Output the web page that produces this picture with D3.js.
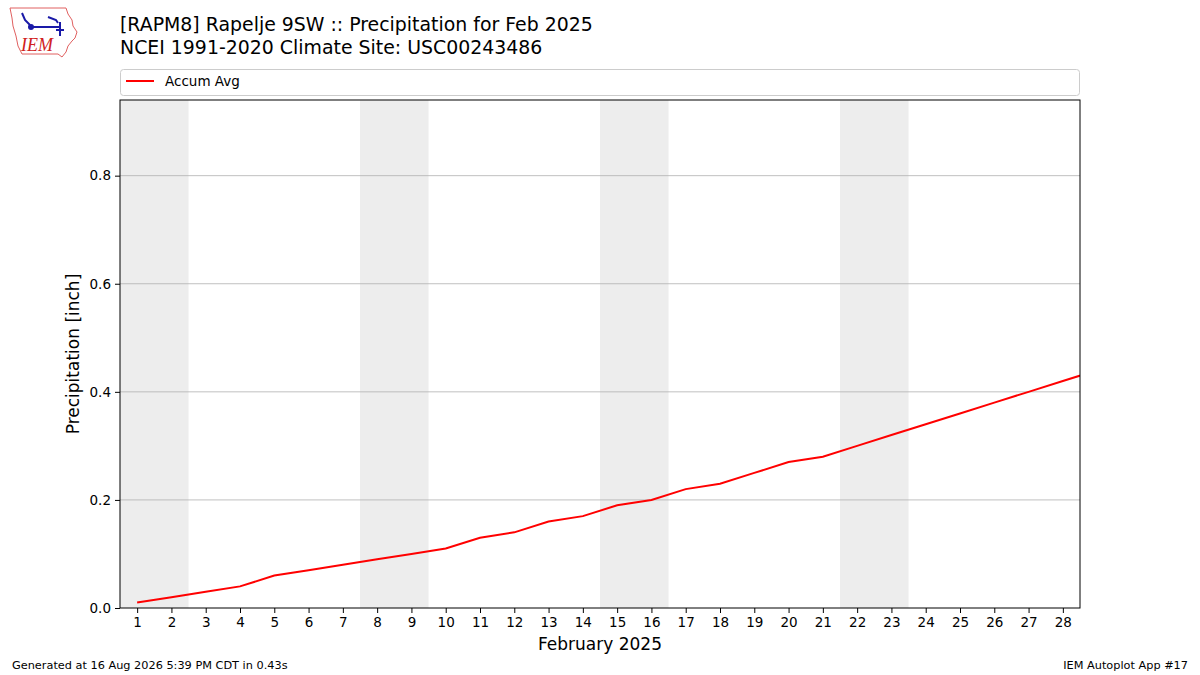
<!DOCTYPE html>
<html>
<head>
<meta charset="utf-8">
<script src="https://cdn.jsdelivr.net/npm/d3@7"></script>
<style>
  body { margin: 0; background: #fff; }
  svg { font-family: "DejaVu Sans", sans-serif; }
</style>
</head>
<body>
<div id="chart"></div>
<script>
// days of Feb 2025 (29 = 1 Mar, clipped at the right edge)
const days = [1, 2, 3, 4, 5, 6, 7, 8, 9, 10, 11, 12, 13, 14, 15, 16, 17, 18, 19, 20, 21, 22, 23, 24, 25, 26, 27, 28, 29];
const accumAvg = [0.01, 0.02, 0.03, 0.04, 0.06, 0.07, 0.08, 0.09, 0.10, 0.11, 0.13, 0.14, 0.16, 0.17, 0.19, 0.20,
    0.22, 0.23, 0.25, 0.27, 0.28, 0.30, 0.32, 0.34, 0.36, 0.38, 0.40, 0.42, 0.44];
const weekends = [[1, 2], [8, 9], [15, 16], [22, 23]];
const yTicks = [0.0, 0.2, 0.4, 0.6, 0.8];

const titleLines = [
    "[RAPM8] Rapelje 9SW :: Precipitation for Feb 2025",
    "NCEI 1991-2020 Climate Site: USC00243486"
];

const width = 1200, height = 675;
const margin = { top: 100, right: 120, bottom: 67, left: 120 };

const svg = d3.select('#chart').append('svg')
    .attr('width', width)
    .attr('height', height)
    .attr('viewBox', `0 0 ${width} ${height}`);

const xScale = d3.scaleLinear()
    .domain([0.5, 28.5])
    .range([margin.left, width - margin.right]);

const yScale = d3.scaleLinear()
    .domain([0, 0.94])
    .range([height - margin.bottom, margin.top]);

svg.append('clipPath').attr('id', 'plotclip')
    .append('rect')
    .attr('x', margin.left).attr('y', margin.top)
    .attr('width', width - margin.left - margin.right)
    .attr('height', height - margin.top - margin.bottom);

// weekend shading
svg.selectAll('.weekend')
    .data(weekends)
    .enter()
    .append('rect')
    .attr('x', d => xScale(d[0] - 0.5))
    .attr('y', margin.top)
    .attr('width', d => xScale(d[1] + 0.5) - xScale(d[0] - 0.5))
    .attr('height', yScale(0) - margin.top)
    .attr('fill', '#ededed');

// horizontal grid
svg.selectAll('.grid')
    .data(yTicks.filter(t => t > 0))
    .enter()
    .append('line')
    .attr('x1', margin.left).attr('x2', width - margin.right)
    .attr('y1', d => yScale(d)).attr('y2', d => yScale(d))
    .attr('stroke', '#b0b0b0')
    .attr('stroke-width', 0.8);

const line = d3.line()
    .x((d, i) => xScale(days[i]))
    .y(d => yScale(d));

svg.append('path')
    .datum(accumAvg)
    .attr('clip-path', 'url(#plotclip)')
    .attr('d', line)
    .attr('fill', 'none')
    .attr('stroke', 'red')
    .attr('stroke-width', 2);

// axes
const xAxis = d3.axisBottom(xScale)
    .tickValues(days.slice(0, 28))
    .tickFormat(d3.format('d'))
    .tickSize(5)
    .tickPadding(4);

const yAxis = d3.axisLeft(yScale)
    .tickValues(yTicks)
    .tickFormat(d3.format('.1f'))
    .tickSize(5)
    .tickPadding(4);

const gx = svg.append('g')
    .attr('transform', `translate(0, ${yScale(0)})`)
    .call(xAxis);

const gy = svg.append('g')
    .attr('transform', `translate(${margin.left}, 0)`)
    .call(yAxis);

[gx, gy].forEach(g => {
    g.select('.domain').remove();
    g.selectAll('.tick line').attr('stroke', '#000').attr('stroke-width', 1);
    g.selectAll('.tick text').attr('font-size', 13.5).attr('fill', '#000')
        .attr('font-family', '"DejaVu Sans", sans-serif');
});

// plot frame
svg.append('rect')
    .attr('x', margin.left).attr('y', margin.top)
    .attr('width', width - margin.left - margin.right)
    .attr('height', height - margin.top - margin.bottom)
    .attr('fill', 'none')
    .attr('stroke', '#000')
    .attr('stroke-width', 1);

// axis labels
svg.append('text')
    .text('February 2025')
    .attr('x', (margin.left + width - margin.right) / 2)
    .attr('y', 650)
    .attr('text-anchor', 'middle')
    .attr('font-size', 17);

svg.append('text')
    .text('Precipitation [inch]')
    .attr('transform', `translate(79, ${(margin.top + height - margin.bottom) / 2}) rotate(-90)`)
    .attr('text-anchor', 'middle')
    .attr('font-size', 17);

// titles
svg.selectAll('.title')
    .data(titleLines)
    .enter()
    .append('text')
    .text(d => d)
    .attr('x', 120)
    .attr('y', (d, i) => 31 + i * 23)
    .attr('font-size', 18.9);

// legend
const legend = svg.append('g');
legend.append('rect')
    .attr('x', 120.5).attr('y', 69.5)
    .attr('width', 959).attr('height', 26)
    .attr('rx', 3)
    .attr('fill', '#fff')
    .attr('stroke', '#cccccc');
legend.append('line')
    .attr('x1', 126).attr('x2', 154)
    .attr('y1', 81).attr('y2', 81)
    .attr('stroke', 'red').attr('stroke-width', 2);
legend.append('text')
    .text('Accum Avg')
    .attr('x', 165).attr('y', 86)
    .attr('font-size', 13.5);

// footer
svg.append('text')
    .text('Generated at 16 Aug 2026 5:39 PM CDT in 0.43s')
    .attr('x', 12).attr('y', 669)
    .attr('font-size', 11.3);
svg.append('text')
    .text('IEM Autoplot App #17')
    .attr('x', 1188).attr('y', 669)
    .attr('text-anchor', 'end')
    .attr('font-size', 11.3);

// logo (rough Iowa outline + weather vane + IEM)
const logo = svg.append('g');
logo.append('path')
    .attr('d', 'M10,8 L66,8 L68,14 L72,20 L73,26 L77,32 L75,38 L72,41 L68,46 L66,52 L62,57 L58,54 L22,54 L18,46 L16,36 L13,26 L12,18 Z')
    .attr('fill', 'none')
    .attr('stroke', '#e06060')
    .attr('stroke-width', 1);
logo.append('path')
    .attr('d', 'M22,13 L25,20 L30,25 M32,27 L60,27 M48,17 L56,20 L58,23 M60,22 L60,36 M56,30 L64,30')
    .attr('fill', 'none')
    .attr('stroke', '#1a1aa8')
    .attr('stroke-width', 2);
logo.append('circle').attr('cx', 31).attr('cy', 27).attr('r', 3).attr('fill', '#1a1aa8');
logo.append('text')
    .text('IEM')
    .attr('x', 21).attr('y', 51)
    .attr('font-family', '"Liberation Serif", serif')
    .attr('font-style', 'italic')
    .attr('font-size', 18)
    .attr('fill', '#d02020');
</script>
</body>
</html>
